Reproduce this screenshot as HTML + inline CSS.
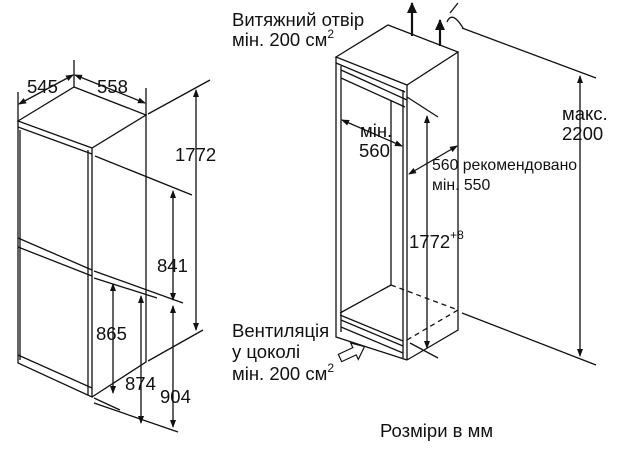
<!DOCTYPE html>
<html><head><meta charset="utf-8"><style>
html,body{margin:0;padding:0;background:#fff;width:623px;height:453px;overflow:hidden}
svg{display:block}
text{font-family:"Liberation Sans",Arial,sans-serif;fill:#111}
</style></head><body>
<svg width="623" height="453" viewBox="0 0 623 453" xmlns="http://www.w3.org/2000/svg">
<defs>
<marker id="a" markerWidth="8" markerHeight="8" refX="7" refY="4" orient="auto" markerUnits="userSpaceOnUse"><path d="M0,1 L8,4 L0,7 Z" fill="#111"/></marker>
<marker id="b" markerWidth="8" markerHeight="8" refX="1" refY="4" orient="auto" markerUnits="userSpaceOnUse"><path d="M8,1 L0,4 L8,7 Z" fill="#111"/></marker>
<marker id="c" markerWidth="12" markerHeight="12" refX="10" refY="6" orient="auto" markerUnits="userSpaceOnUse"><path d="M0,1 L11,6 L0,11 Z" fill="#111"/></marker>
</defs>
<g stroke="#111" stroke-width="1.3" fill="none">
<path d="M18,121 L74,87 L146,115 L92,148 Z"/>
<path d="M18,121 V363 L92,397 V148 M146,115 V362 L92,397"/>
<path d="M18,127 L92,154 M18,238 L92,270 M18,247 L92,276 M18,355 L92,388"/>
<path d="M88,150 V395 M20,130 V360"/>
<path d="M18,92 V121 M74,60 V87 M146,88 V115"/>
<path d="M19,104 L73,75" marker-start="url(#b)" marker-end="url(#a)"/>
<path d="M75,75 L145,103" marker-start="url(#b)" marker-end="url(#a)"/>
<path d="M148,114 L210,80 M148,361 L203,330"/>
<path d="M196,90 V330" marker-start="url(#b)" marker-end="url(#a)"/>
<path d="M95,156 L192,195 M94,271 L183,303 M94,278 L157,298"/>
<path d="M173,191 V300" marker-start="url(#b)" marker-end="url(#a)"/>
<path d="M173,306 V427" marker-start="url(#b)" marker-end="url(#a)"/>
<path d="M113,284 V393" marker-start="url(#b)" marker-end="url(#a)"/>
<path d="M141,296 V423" marker-start="url(#b)" marker-end="url(#a)"/>
<path d="M94,398 L120,410 M94,403 L178,432"/>
<path d="M336,57 L388,25 L458,52 L407,85 Z"/>
<path d="M336,57 V337 L407,360 M336,63 L405,92 M341,66 V332 M341,70 L407,100 M341,78 L405,107"/>
<path d="M407,85 V360 M403,90 V358 M458,52 V330 L407,360"/>
<path d="M391,100 V285 M340,313 L391,285 M340,315 L403,341 M341,320 L403,346 M341,327 L403,353"/>
<path d="M391,285 L458,310 M407,340 L458,310" stroke-dasharray="5,4"/>
<path d="M407,97 L438,117 M410,343 L438,358"/>
<path d="M427,116 V348" marker-start="url(#b)" marker-end="url(#a)"/>
<path d="M342,120 L402,146" marker-start="url(#b)" marker-end="url(#a)"/>
<path d="M457,146 L409,174" marker-start="url(#b)" marker-end="url(#a)"/>
<path d="M462,28 L596,78 M462,313 L596,365"/>
<path d="M580,76 V356" marker-start="url(#b)" marker-end="url(#a)"/>
<path d="M412,36 V3" stroke-width="2.2" marker-end="url(#c)"/>
<path d="M440,46 V20" stroke-width="2.2" marker-end="url(#c)"/>
<path d="M447,22 Q452,10 463,28 M450,13 L458,3"/>
<path transform="translate(340,358) rotate(-25)" d="M0,-4 L16,-4 L16,-9 L27,0 L16,9 L16,4 L0,4 Z" stroke-width="1.2"/>
</g>
<g font-size="18.5">
<text x="27" y="93">545</text>
<text x="97" y="93">558</text>
<text x="175" y="161">1772</text>
<text x="157" y="272">841</text>
<text x="96" y="340">865</text>
<text x="125" y="390">874</text>
<text x="160" y="403">904</text>
<text x="232" y="26">Витяжний отвір</text>
<text x="232" y="46">мін. 200 см<tspan font-size="12" dy="-8">2</tspan></text>
<text x="232" y="337">Вентиляція</text>
<text x="232" y="358">у цоколі</text>
<text x="232" y="380">мін. 200 см<tspan font-size="12" dy="-8">2</tspan></text>
<text x="360" y="137">мін.</text>
<text x="359" y="157">560</text>
<text x="409" y="248">1772<tspan font-size="12" dy="-9">+8</tspan></text>
<text x="562" y="120">макс.</text>
<text x="562" y="140">2200</text>
<text x="380" y="437">Розміри в мм</text>
</g>
<g font-size="15.8">
<text x="432" y="170">560 рекомендовано</text>
<text x="432" y="190">мін. 550</text>
</g>
</svg>
</body></html>
